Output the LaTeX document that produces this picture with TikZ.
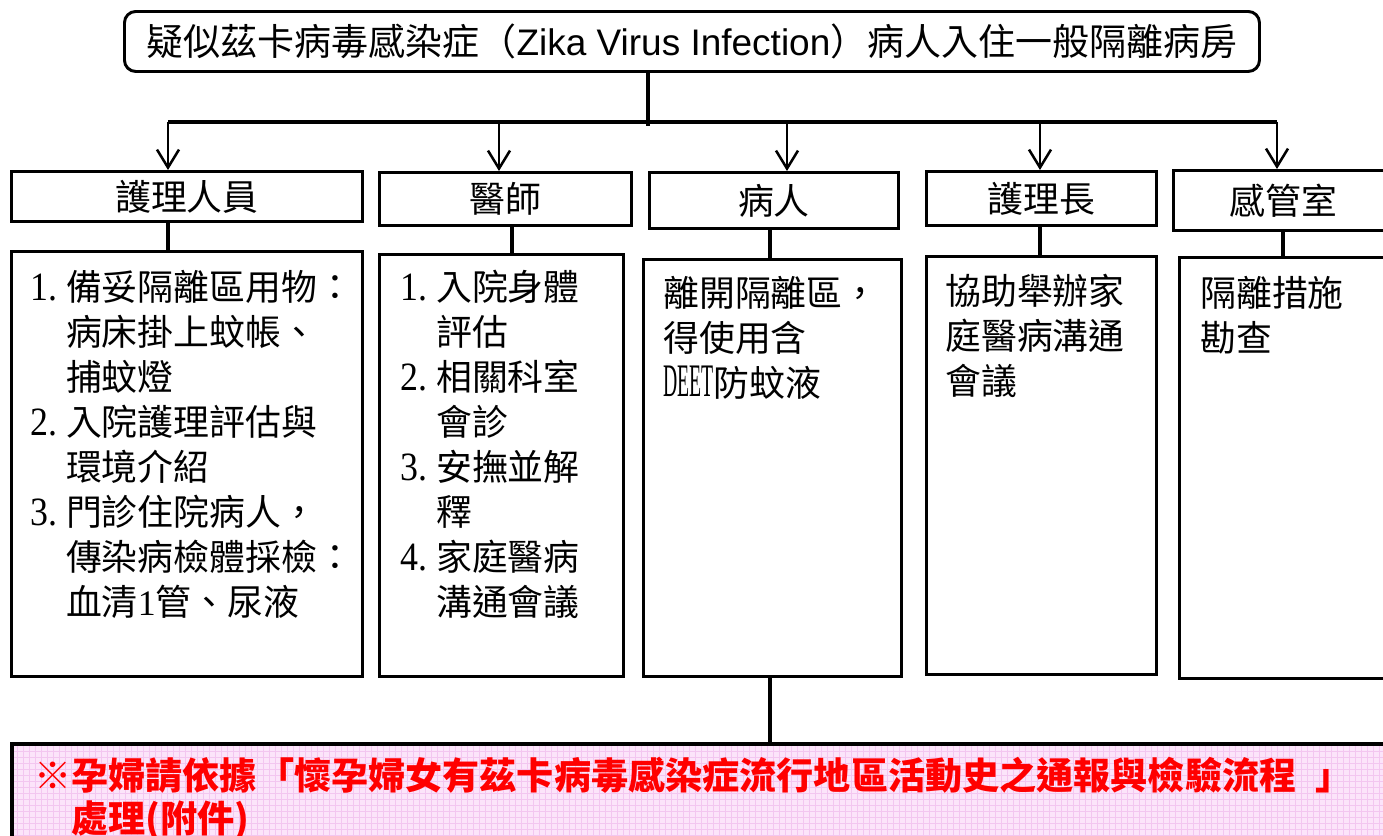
\documentclass[tikz,border=0pt]{standalone}
\usepackage{fontspec}
\usepackage{graphicx}
\setmainfont{Noto Sans CJK TC}
\newfontfamily\arialfont{Liberation Sans}
\newfontfamily\romfont{Liberation Serif}
\usetikzlibrary{arrows.meta}
\definecolor{notered}{RGB}{255,0,0}
\definecolor{notepink}{RGB}{252,228,250}
\definecolor{notegrid}{RGB}{243,198,240}
\newcommand{\num}[1]{\makebox[1em][l]{\scalebox{1}[1.12]{\romfont #1}}}
\newcommand{\ind}{\hspace*{1em}}
\begin{document}
\begin{tikzpicture}[x=0.025cm,y=-0.025cm,
    box/.style={draw, line width=2.1pt, inner sep=0pt, anchor=north west},
    head/.style={box, font=\fontsize{25.5}{32}\selectfont},
    body/.style={anchor=north west, inner sep=0pt, align=left, font=\fontsize{25.5}{32}\selectfont},
    link/.style={line width=2.8pt},
    feed/.style={line width=1.8pt, -{Straight Barb[length=0.45cm,width=0.55cm]}}]
    \useasboundingbox (0,0) rectangle (1383,836);
    % title
    \node[box, rounded corners=8pt, minimum width=1135*0.025cm, minimum height=60*0.025cm,
        font=\fontsize{26.3}{32}\selectfont] (top) at (123,10)
        {疑似茲卡病毒感染症（{\arialfont Zika Virus Infection}）病人入住一般隔離病房};
    % heads
    \node[head, minimum width=351*0.025cm, minimum height=50*0.025cm] (hA) at (10,170) {護理人員};
    \node[head, minimum width=252*0.025cm, minimum height=53*0.025cm] (hB) at (378,171) {醫師};
    \node[head, minimum width=249*0.025cm, minimum height=56*0.025cm] (hC) at (648,171) {病人};
    \node[head, minimum width=230*0.025cm, minimum height=54*0.025cm] (hD) at (925,170) {護理長};
    \node[head, minimum width=220*0.025cm, minimum height=60*0.025cm] (hE) at (1172,169) {感管室};
    % bodies
    \node[box, minimum width=351*0.025cm, minimum height=425*0.025cm] (dA) at (10,250) {};
    \node[box, minimum width=244*0.025cm, minimum height=422*0.025cm] (dB) at (378,253) {};
    \node[box, minimum width=258*0.025cm, minimum height=417*0.025cm] (dC) at (642,258) {};
    \node[box, minimum width=230*0.025cm, minimum height=418*0.025cm] (dD) at (925,255) {};
    \node[box, minimum width=217*0.025cm, minimum height=421*0.025cm] (dE) at (1178,256) {};
    \node[body] (tA) at ([shift={(20,20)}]dA.north west)
        {\num{1.}備妥隔離區用物：\\
         \ind 病床掛上蚊帳、\\
         \ind 捕蚊燈\\
         \num{2.}入院護理評估與\\
         \ind 環境介紹\\
         \num{3.}門診住院病人，\\
         \ind 傳染病檢體採檢：\\
         \ind 血清{\romfont 1}管、尿液};
    \node[body] (tB) at ([shift={(22,17)}]dB.north west)
        {\num{1.}入院身體\\
         \ind 評估\\
         \num{2.}相關科室\\
         \ind 會診\\
         \num{3.}安撫並解\\
         \ind 釋\\
         \num{4.}家庭醫病\\
         \ind 溝通會議};
    \node[body] (tC) at ([shift={(21,18)}]dC.north west)
        {離開隔離區，\\得使用含\\\scalebox{0.55}[1.3]{\romfont DEET}防蚊液};
    \node[body] (tD) at ([shift={(20,19)}]dD.north west) {協助舉辦家\\庭醫病溝通\\會議};
    \node[body] (tE) at ([shift={(22,20)}]dE.north west) {隔離措施\\勘查};
    % note
    \node[box, line width=2.8pt, fill=notepink, minimum width=1390*0.025cm, minimum height=110*0.025cm,
        path picture={\draw[notegrid, line width=0.4pt, step=0.15cm]
            (path picture bounding box.south west) grid (path picture bounding box.north east);}]
        (note) at (10,742) {};
    \node[anchor=north west, inner sep=0pt, align=left, text=notered,
        font=\bfseries\fontsize{26.4}{30.6}\selectfont] (noteText) at ([shift={(24,15)}]note.north west)
        {※孕婦請依據「懷孕婦女有茲卡病毒感染症流行地區活動史之通報與檢驗流程\hspace{0.5em}」\\
         \ind 處理(附件)};
    % connectors
    \coordinate (bus) at (648,126);
    \coordinate (fA) at (168,122);
    \coordinate (fB) at (499,122);
    \coordinate (fC) at (787,122);
    \coordinate (fD) at (1040,122);
    \coordinate (fE) at (1277,122);
    \draw[link] (top.south -| bus) -- (bus);
    \draw[link] (fA) -- (fE);
    \foreach \k in {A,B,C,D,E}
        \draw[feed] (f\k) -- (h\k.north -| f\k);
    \coordinate (cA) at (168,0);
    \coordinate (cB) at (512,0);
    \coordinate (cC) at (770,0);
    \coordinate (cD) at (1040,0);
    \coordinate (cE) at (1283,0);
    \foreach \k in {A,B,C,D,E}
        \draw[link] (h\k.south -| c\k) -- (d\k.north -| c\k);
    \draw[link] (dC.south -| cC) -- (note.north -| cC);
\end{tikzpicture}
\end{document}
